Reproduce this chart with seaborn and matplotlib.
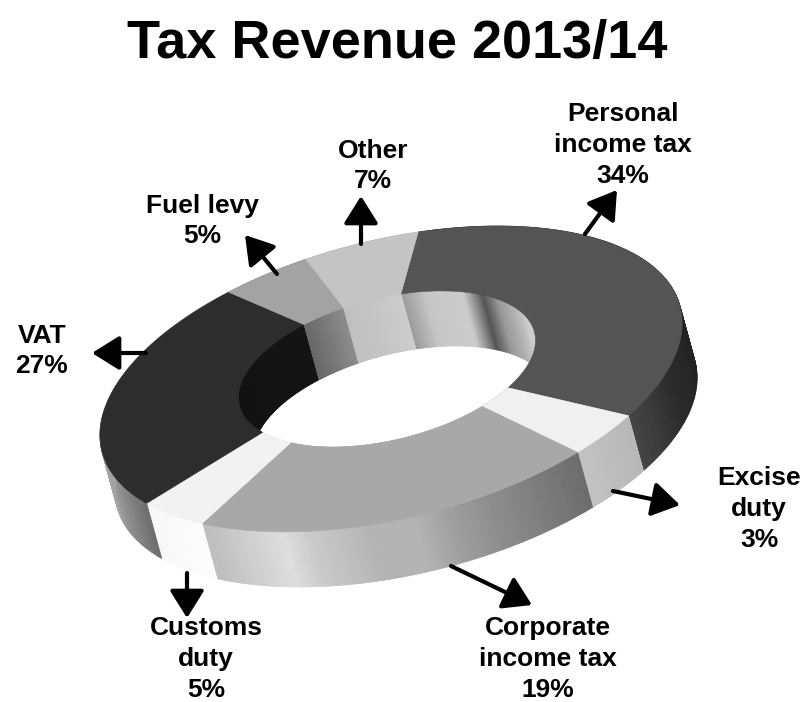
import numpy as np
import matplotlib
matplotlib.use('Agg')
import matplotlib.pyplot as plt
from matplotlib.collections import PolyCollection
import seaborn as sns

# labels and printed percentages
categories = ['Personal\nincome tax', 'Excise\nduty', 'Corporate\nincome tax', 'Customs\nduty', 'VAT', 'Fuel levy', 'Other']
percent = [34, 3, 19, 5, 27, 5, 7]
# share of the ring each slice takes as drawn in the picture (3D view distorts it a bit)
drawn_share = [33.3, 4.1, 22.3, 4.6, 24.7, 4.7, 6.2]

top_grey = [0.33, 0.94, 0.66, 0.95, 0.175, 0.64, 0.77]
# (position along slice, grey) for the outer and inner walls
outer_grey = [
    [(0, .13), (.7, .13), (.85, .16), (1, .27)],
    [(0, .72), (1, .76)],
    [(0, .42), (.25, .55), (.366, .63), (.44, .7), (.54, .7), (.71, .8), (.77, .87), (.975, .75), (1, .75)],
    [(0, .99), (1, .97)],
    [(0, .42), (.1, .52), (.25, .65), (1, .6)],
    [(0, .6), (1, .6)],
    [(0, .7), (1, .7)],
]
inner_grey = [
    [(0, .6), (.083, .78), (.21, .8), (.29, .33), (.36, .6), (.525, .8), (1, .8)],
    [(0, .8), (1, .8)],
    [(0, .7), (1, .7)],
    [(0, .9), (1, .9)],
    [(0, .07), (1, .07)],
    [(0, .4), (1, .55)],
    [(0, .75), (1, .8)],
]

sns.set_theme(style='white')
plt.rcParams['font.family'] = ['Liberation Sans', 'DejaVu Sans']

fig, ax = plt.subplots(figsize=(8.03, 7.02), dpi=100)
ax.set_position([0, 0, 1, 1])
ax.set_xlim(0, 803)
ax.set_ylim(702, 0)
ax.axis('off')

# ring geometry in picture pixels
tilt = np.radians(14)
depth = np.array([15, 55])


def ellipse(t, cx, cy, a, b):
    along = a * np.cos(t)
    perp = -b * np.sin(t)
    x = cx + along * np.cos(tilt) + perp * np.sin(tilt)
    y = cy - along * np.sin(tilt) + perp * np.cos(tilt)
    return np.column_stack([x, y])


def outer(t):
    return ellipse(t, 391, 379, 298, 139)


def inner(t):
    return ellipse(t, 387, 369, 152, 71)


def wall(curve, t, stops):
    pts = curve(t)
    quads = [[pts[i], pts[i + 1], pts[i + 1] + depth, pts[i] + depth] for i in range(len(t) - 1)]
    frac = (np.arange(len(t) - 1) + 0.5) / (len(t) - 1)
    greys = np.interp(frac, [s[0] for s in stops], [s[1] for s in stops])
    colors = [(g, g, g) for g in greys]
    ax.add_collection(PolyCollection(quads, facecolors=colors, edgecolors=colors, linewidths=0.6))


spans = np.array(drawn_share) / sum(drawn_share) * 2 * np.pi
edges = np.radians(78) - np.concatenate([[0], np.cumsum(spans)])
arcs = [np.linspace(edges[i], edges[i + 1], 120) for i in range(len(spans))]

for t, stops in zip(arcs, outer_grey):
    wall(outer, t, stops)

# the hole, then the far inner wall seen through it
all_t = np.linspace(0, 2 * np.pi, 300)
ax.fill(*inner(all_t).T, color='white', lw=0)
for t, stops in zip(arcs, inner_grey):
    wall(inner, t, stops)

for t, g in zip(arcs, top_grey):
    poly = np.vstack([outer(t), inner(t[::-1])])
    ax.fill(poly[:, 0], poly[:, 1], color=(g, g, g), lw=0.4)

ax.text(397, 44, 'Tax Revenue 2013/14', fontsize=39, fontweight='bold', ha='center', va='center', color='black')

# label centres and arrows
label_xy = [(623, 145), (759, 509), (548, 659), (206, 659), (42, 351), (202, 221), (373, 166)]
arrow_from = [(585, 234), (613, 491), (451, 566), (187, 573), (146, 353), (277, 274), (361, 244)]
arrow_to = [(617, 190), (680, 505), (532, 605), (187, 618), (92, 353), (245, 235), (361, 196)]

for name, pct, xy, a, b in zip(categories, percent, label_xy, arrow_from, arrow_to):
    ax.text(xy[0], xy[1], f'{name}\n{pct}%', fontsize=19, fontweight='bold', ha='center', va='center',
            color='black', linespacing=1.36)
    ax.annotate('', xy=b, xytext=a, arrowprops=dict(arrowstyle='-|>,head_length=0.8,head_width=0.5', lw=3,
                                                    color='black', mutation_scale=21, shrinkA=0, shrinkB=0))

fig.savefig('out.png', dpi=100)
